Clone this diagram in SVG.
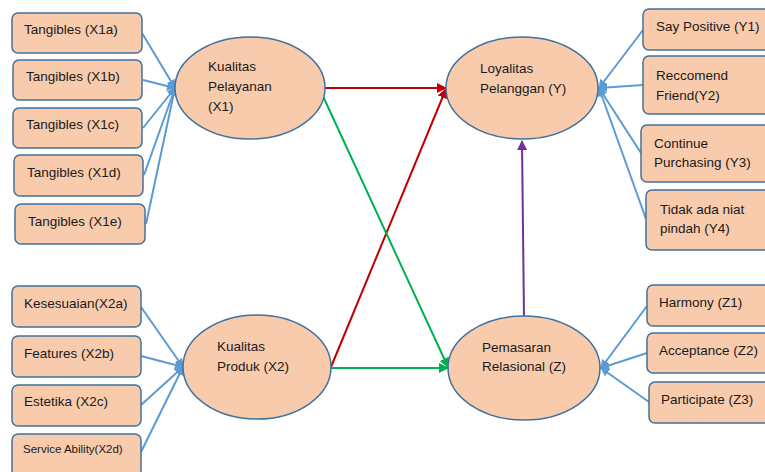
<svg xmlns="http://www.w3.org/2000/svg" width="765" height="472" viewBox="0 0 765 472">
<defs>
<style>
.box{fill:#F8CBAD;stroke:#41719C;stroke-width:1.5}
.ell{fill:#F8CBAD;stroke:#41719C;stroke-width:1.5}
text{font-family:"Liberation Sans",Arial,sans-serif;font-size:13.5px;fill:#1a1a1a}
.ind{stroke:#5B9BD5;stroke-width:2;fill:none}
</style>
<marker id="ab" viewBox="0 0 10 10" refX="9" refY="5" markerWidth="4.5" markerHeight="4.5" orient="auto" markerUnits="strokeWidth"><path d="M0,0 L10,5 L0,10 z" fill="#5B9BD5"/></marker>
<marker id="ar" viewBox="0 0 10 10" refX="9" refY="5" markerWidth="5" markerHeight="5" orient="auto" markerUnits="strokeWidth"><path d="M0,0 L10,5 L0,10 z" fill="#C00000"/></marker>
<marker id="ag" viewBox="0 0 10 10" refX="9" refY="5" markerWidth="5" markerHeight="5" orient="auto" markerUnits="strokeWidth"><path d="M0,0 L10,5 L0,10 z" fill="#00B050"/></marker>
<marker id="ap" viewBox="0 0 10 10" refX="9" refY="5" markerWidth="5" markerHeight="5" orient="auto" markerUnits="strokeWidth"><path d="M0,0 L10,5 L0,10 z" fill="#7030A0"/></marker>
</defs>
<g id="connectors">
<line class="ind" x1="142" y1="33" x2="175" y2="88" marker-end="url(#ab)"/>
<line class="ind" x1="143" y1="80" x2="175" y2="88" marker-end="url(#ab)"/>
<line class="ind" x1="143" y1="128" x2="175" y2="88" marker-end="url(#ab)"/>
<line class="ind" x1="144" y1="175" x2="175" y2="88" marker-end="url(#ab)"/>
<line class="ind" x1="146" y1="224" x2="175" y2="88" marker-end="url(#ab)"/>
<line class="ind" x1="141" y1="307" x2="183" y2="367" marker-end="url(#ab)"/>
<line class="ind" x1="141" y1="356" x2="183" y2="367" marker-end="url(#ab)"/>
<line class="ind" x1="141" y1="405" x2="183" y2="367" marker-end="url(#ab)"/>
<line class="ind" x1="141" y1="452" x2="183" y2="367" marker-end="url(#ab)"/>
<line class="ind" x1="643" y1="30" x2="599" y2="88" marker-end="url(#ab)"/>
<line class="ind" x1="643" y1="85" x2="599" y2="88" marker-end="url(#ab)"/>
<line class="ind" x1="641" y1="153" x2="599" y2="88" marker-end="url(#ab)"/>
<line class="ind" x1="646" y1="219" x2="599" y2="88" marker-end="url(#ab)"/>
<line class="ind" x1="647" y1="306" x2="601" y2="368" marker-end="url(#ab)"/>
<line class="ind" x1="647" y1="353" x2="601" y2="368" marker-end="url(#ab)"/>
<line class="ind" x1="649" y1="402" x2="601" y2="368" marker-end="url(#ab)"/>
<line x1="325" y1="88" x2="446" y2="88" stroke="#C00000" stroke-width="2" marker-end="url(#ar)"/>
<line x1="331" y1="367" x2="446" y2="89" stroke="#C00000" stroke-width="2" marker-end="url(#ar)"/>
<line x1="322" y1="94" x2="448" y2="367" stroke="#00B050" stroke-width="2" marker-end="url(#ag)"/>
<line x1="331" y1="368" x2="448" y2="368" stroke="#00B050" stroke-width="2" marker-end="url(#ag)"/>
<line x1="524" y1="317" x2="522" y2="141" stroke="#7030A0" stroke-width="2" marker-end="url(#ap)"/>
</g>
<g id="X1a"><rect class="box" x="12" y="13" width="130" height="40" rx="6"/><text x="24" y="34">Tangibles (X1a)</text></g>
<g id="X1b"><rect class="box" x="13" y="60" width="129" height="40" rx="6"/><text x="26" y="81">Tangibles (X1b)</text></g>
<g id="X1c"><rect class="box" x="13" y="108" width="129" height="40" rx="6"/><text x="26" y="129">Tangibles (X1c)</text></g>
<g id="X1d"><rect class="box" x="14" y="155" width="129" height="41" rx="6"/><text x="27" y="177">Tangibles (X1d)</text></g>
<g id="X1e"><rect class="box" x="15" y="204" width="130" height="40" rx="6"/><text x="28" y="226">Tangibles (X1e)</text></g>
<g id="X1"><ellipse class="ell" cx="250" cy="88" rx="75" ry="51"/><text x="208" y="71">Kualitas</text><text x="208" y="91">Pelayanan</text><text x="208" y="111">(X1)</text></g>
<g id="X2a"><rect class="box" x="12" y="286" width="129" height="41" rx="6"/><text x="24" y="308">Kesesuaian(X2a)</text></g>
<g id="X2b"><rect class="box" x="12" y="336" width="129" height="41" rx="6"/><text x="24" y="358">Features (X2b)</text></g>
<g id="X2c"><rect class="box" x="12" y="385" width="129" height="41" rx="6"/><text x="24" y="406">Estetika (X2c)</text></g>
<g id="X2d"><rect class="box" x="12" y="434" width="129" height="44" rx="6"/><text x="23" y="453" style="font-size:11.5px">Service Ability(X2d)</text></g>
<g id="X2"><ellipse class="ell" cx="257" cy="367" rx="74" ry="52"/><text x="217" y="351">Kualitas</text><text x="217" y="371">Produk (X2)</text></g>
<g id="Y"><ellipse class="ell" cx="522" cy="88" rx="76" ry="51"/><text x="480" y="73">Loyalitas</text><text x="480" y="93">Pelanggan (Y)</text></g>
<g id="Y1"><rect class="box" x="643" y="9" width="130" height="41" rx="6"/><text x="656" y="31">Say Positive (Y1)</text></g>
<g id="Y2"><rect class="box" x="643" y="56" width="130" height="58" rx="6"/><text x="656" y="80">Reccomend</text><text x="656" y="100">Friend(Y2)</text></g>
<g id="Y3"><rect class="box" x="641" y="125" width="132" height="57" rx="6"/><text x="654" y="148">Continue</text><text x="654" y="167">Purchasing (Y3)</text></g>
<g id="Y4"><rect class="box" x="646" y="190" width="127" height="60" rx="6"/><text x="660" y="214">Tidak ada niat</text><text x="660" y="233">pindah (Y4)</text></g>
<g id="Z"><ellipse class="ell" cx="524" cy="368" rx="76" ry="52"/><text x="482" y="352">Pemasaran</text><text x="482" y="371">Relasional (Z)</text></g>
<g id="Z1"><rect class="box" x="647" y="285" width="126" height="41" rx="6"/><text x="659" y="307">Harmony (Z1)</text></g>
<g id="Z2"><rect class="box" x="647" y="333" width="126" height="40" rx="6"/><text x="659" y="355">Acceptance (Z2)</text></g>
<g id="Z3"><rect class="box" x="649" y="382" width="124" height="41" rx="6"/><text x="661" y="404">Participate (Z3)</text></g>
</svg>
